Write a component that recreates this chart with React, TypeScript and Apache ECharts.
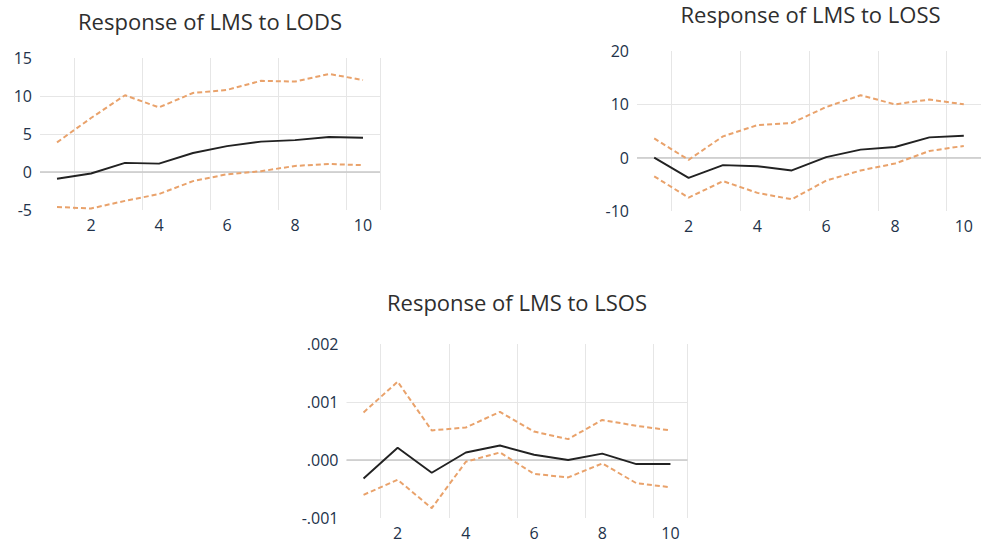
import React, { useEffect, useRef } from "react";
import * as echarts from "echarts";

const periods = ["1", "2", "3", "4", "5", "6", "7", "8", "9", "10"];

const lodsTitle = "Response of LMS to LODS";
const lodsResp = [-0.88, -0.2, 1.2, 1.1, 2.5, 3.4, 4.0, 4.2, 4.6, 4.5];
const lodsUpper = [3.9, 7.1, 10.1, 8.5, 10.4, 10.8, 12.0, 11.9, 12.9, 12.1];
const lodsLower = [-4.6, -4.8, -3.8, -2.9, -1.2, -0.3, 0.1, 0.8, 1.05, 0.9];

const lossTitle = "Response of LMS to LOSS";
const lossResp = [0, -3.8, -1.4, -1.6, -2.4, 0.1, 1.5, 2.0, 3.8, 4.1];
const lossUpper = [3.6, -0.4, 4.0, 6.1, 6.5, 9.5, 11.7, 10.0, 10.9, 10.0];
const lossLower = [-3.5, -7.5, -4.4, -6.6, -7.8, -4.3, -2.4, -1.1, 1.25, 2.2];

const lsosTitle = "Response of LMS to LSOS";
const lsosResp = [-0.00032, 0.00021, -0.00022, 0.00013, 0.00025, 0.00009, 0.0, 0.00011, -0.00007, -0.00007];
const lsosUpper = [0.00082, 0.00135, 0.00051, 0.00056, 0.00083, 0.00049, 0.00036, 0.00069, 0.00059, 0.00051];
const lsosLower = [-0.0006, -0.00034, -0.00083, -0.00003, 0.00013, -0.00024, -0.0003, -0.00006, -0.0004, -0.00047];

const lodsAxis = { min: -5, max: 15, interval: 5 };
const lossAxis = { min: -10, max: 20, interval: 10 };
const lsosAxis = { min: -0.001, max: 0.002, interval: 0.001 };

const FONT = "'Open Sans', 'Noto Sans', sans-serif";
const TEXT = "#22324a";
const ORANGE = "#e9a26b";

export default function App() {
  const ref = useRef<HTMLDivElement>(null);
  useEffect(() => {
    document.body.style.margin = "0";
    const chart = echarts.init(ref.current!, undefined, { renderer: "svg" });

    const grids = [
      { left: 40, top: 58, width: 340, height: 152 },
      { left: 637, top: 51, width: 347, height: 160 },
      { left: 346.5, top: 344, width: 341, height: 174 },
    ];
    const axes = [lodsAxis, lossAxis, lsosAxis];
    const titles = [lodsTitle, lossTitle, lsosTitle];
    const titleY = [21, 14, 302];
    const data = [
      [lodsResp, lodsUpper, lodsLower],
      [lossResp, lossUpper, lossLower],
      [lsosResp, lsosUpper, lsosLower],
    ];

    const fmt = (i: number) => (v: number) => {
      if (i < 2) return String(v);
      const s = v.toFixed(3);
      return s.replace("0.", ".");
    };

    const series: any[] = [];
    data.forEach((d, i) => {
      series.push({
        type: "line",
        xAxisIndex: i,
        yAxisIndex: i,
        data: d[0],
        symbol: "none",
        z: 3,
        lineStyle: { color: "#222", width: 1.9 },
        markLine: {
          silent: true,
          symbol: "none",
          label: { show: false },
          lineStyle: { color: "#c9c9c9", width: 1.5, type: "solid" },
          data: [{ yAxis: 0 }],
          z: 1,
        },
      });
      [1, 2].forEach((k) =>
        series.push({
          type: "line",
          xAxisIndex: i,
          yAxisIndex: i,
          data: d[k],
          symbol: "none",
          z: 2,
          lineStyle: { color: ORANGE, width: 2, type: [5, 3] },
        })
      );
    });

    chart.setOption({
      animation: false,
      backgroundColor: "#fff",
      grid: grids,
      graphic: titles.map((t, i) => ({
        type: "text",
        x: grids[i].left + grids[i].width / 2,
        y: titleY[i],
        style: {
          text: t,
          fill: "#2e2e2e",
          fontSize: 22,
          fontFamily: FONT,
          lineHeight: 22,
          align: "center",
          verticalAlign: "middle",
        },
      })),
      xAxis: grids.map((_, i) => ({
        type: "category",
        gridIndex: i,
        data: periods,
        boundaryGap: true,
        axisLine: { show: false },
        axisTick: { show: false },
        axisLabel: {
          interval: (idx: number) => idx % 2 === 1,
          color: TEXT,
          fontSize: 16,
          fontFamily: FONT,
          margin: 7,
        },
        splitLine: {
          show: true,
          interval: (idx: number) => idx % 2 === 1,
          lineStyle: { color: "#e6e6e6", width: 1 },
        },
      })),
      yAxis: axes.map((a, i) => ({
        type: "value",
        gridIndex: i,
        min: a.min,
        max: a.max,
        interval: a.interval,
        axisLine: { show: false },
        axisTick: { show: false },
        axisLabel: {
          color: TEXT,
          fontSize: 16,
          fontFamily: FONT,
          margin: 8,
          formatter: fmt(i),
        },
        splitLine: {
          show: true,
          showMinLine: false,
          showMaxLine: false,
          lineStyle: { color: "#e6e6e6", width: 1 },
        },
      })),
      series,
    });
    return () => chart.dispose();
  }, []);
  return <div ref={ref} style={{ width: 981, height: 544 }} />;
}
